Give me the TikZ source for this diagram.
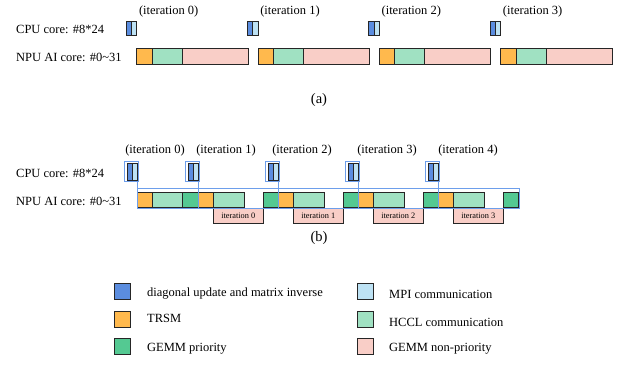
\documentclass[tikz,border=0pt]{standalone}
\usepackage{fontspec}
\setmainfont{Liberation Serif}
\usetikzlibrary{fit}
\definecolor{dblue}{RGB}{91,141,223}
\definecolor{lblue}{RGB}{189,226,244}
\definecolor{org}{RGB}{255,185,77}
\definecolor{lgrn}{RGB}{160,225,194}
\definecolor{dgrn}{RGB}{84,201,146}
\definecolor{pnk}{RGB}{249,206,199}
\definecolor{ovblue}{RGB}{109,158,235}
\begin{document}
\begin{tikzpicture}[x=1pt,y=-1pt,
  blk/.style={draw=black!85, line width=0.7pt, inner sep=0pt, outer sep=0pt},
  ovl/.style={draw=ovblue, line width=0.9pt, inner sep=0pt, outer sep=0pt},
  lbl/.style={font=\fontsize{12.5}{14}\selectfont, inner sep=0pt},
  small/.style={font=\fontsize{8.3}{9}\selectfont, inner sep=0pt},
  captxt/.style={font=\fontsize{14.5}{16}\selectfont, inner sep=0pt}]
\useasboundingbox (0,0) rectangle (623,364);

% ---------------- (a) ----------------
\node[lbl, anchor=west] (aCPU) at (16,29) {CPU core: \#8*24};
\node[lbl, anchor=west] (aNPU) at (16,57) {NPU AI core: \#0\textasciitilde31};
\foreach \k in {0,...,3}{
  \pgfmathsetmacro\s{136.7+121.3*\k}
  \node[blk, fill=dblue, fit={({\s-10.7},21)({\s-5.35},35)}] (aCd\k) {};
  \node[blk, fill=lblue, fit={({\s-5.35},21)(\s,35)}] (aCl\k) {};
  \node[blk, fill=org,  fit={(\s,48)({\s+15.3},64)}] (aNo\k) {};
  \node[blk, fill=lgrn, fit={({\s+15.3},48)({\s+45.5},64)}] (aNg\k) {};
  \node[blk, fill=pnk,  fit={({\s+45.5},48)({\s+111.5},64)}] (aNp\k) {};
  \node[lbl] (aIt\k) at ({\s+32},11) {(iteration \k)};
}
\node[captxt] (capa) at (319,100) {(a)};

% ---------------- (b) ----------------
\node[lbl, anchor=west] (bCPU) at (16,173) {CPU core: \#8*24};
\node[lbl, anchor=west] (bNPU) at (16,201) {NPU AI core: \#0\textasciitilde31};
\foreach \k/\r/\lx in {0/137/155,1/198/226,2/278/302,3/358/387,4/438/468}{
  \node[blk, fill=dblue, fit={({\r-10},163)({\r-5},180)}] (bCd\k) {};
  \node[blk, fill=lblue, fit={({\r-5},163)(\r,180)}] (bCl\k) {};
  \node[ovl, fit={({\r-12.5},161)({\r+1},181)}] (bH\k) {};
  \node[lbl] (bIt\k) at (\lx,150) {(iteration \k)};
}
% first NPU segment
\node[blk, fill=org,  fit={(137,192)(152,207)}] (bNo0) {};
\node[blk, fill=lgrn, fit={(152,192)(182,207)}] (bNg0) {};
\node[blk, fill=dgrn, fit={(182,192)(198,207)}] (bNd0) {};
\foreach \k in {1,...,4}{
  \pgfmathsetmacro\s{198+80*(\k-1)}
  \pgfmathtruncatemacro\j{\k-1}
  \node[blk, fill=org,  fit={(\s,192)({\s+15.5},207)}] (bNo\k) {};
  \node[blk, fill=lgrn, fit={({\s+15.5},192)({\s+46},207)}] (bNg\k) {};
  \node[blk, fill=dgrn, fit={({\s+65},192)({\s+80.5},207)}] (bNd\k) {};
  \node[blk, fill=pnk,  fit={({\s+15.5},208)({\s+65},223)}] (bP\k) {};
  \node[small] at (bP\k.center) {iteration \j};
}
% overlay
\node[ovl, fit={(137,188)(519,208)}] (bOv) {};
\draw[ovl] (bH0.south -| bCl0.east) -- (bOv.north -| bCl0.east);
\foreach \k in {1,...,4}{
  \draw[ovl] (bH\k.south -| bCl\k.east) -- (bOv.south -| bCl\k.east);
}
\node[captxt] (capb) at (319,238) {(b)};

% ---------------- legend ----------------
\node[blk, fill=dblue, fit={(114,283)(130,299)}] (L1) {};
\node[blk, fill=org,   fit={(114,311)(130,327)}] (L2) {};
\node[blk, fill=dgrn,  fit={(114,338)(130,354)}] (L3) {};
\node[blk, fill=lblue, fit={(357,283)(373,299)}] (L4) {};
\node[blk, fill=lgrn,  fit={(357,311)(373,327)}] (L5) {};
\node[blk, fill=pnk,   fit={(357,338)(373,354)}] (L6) {};
\node[lbl, anchor=west] (T1) at (147,294) {diagonal update and matrix inverse};
\node[lbl, anchor=west] (T2) at (147,318) {TRSM};
\node[lbl, anchor=west] (T3) at (147,349) {GEMM priority};
\node[lbl, anchor=west] (T4) at (389,294) {MPI communication};
\node[lbl, anchor=west] (T5) at (389,322) {HCCL communication};
\node[lbl, anchor=west] (T6) at (389,349) {GEMM non-priority};
\end{tikzpicture}
\end{document}
